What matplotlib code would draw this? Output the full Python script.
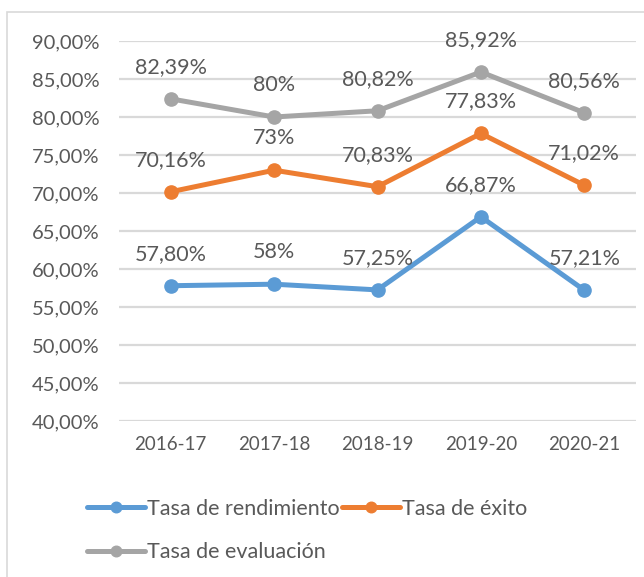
import matplotlib.pyplot as plt
from matplotlib.patches import Rectangle

years = ['2016-17', '2017-18', '2018-19', '2019-20', '2020-21']
rendimiento = [57.80, 58, 57.25, 66.87, 57.21]
exito = [70.16, 73, 70.83, 77.83, 71.02]
evaluacion = [82.39, 80, 80.82, 85.92, 80.56]

plt.rcParams['font.family'] = ['Lato', 'DejaVu Sans']
txt = '#595959'


def fmt(v):
    if float(v).is_integer():
        return f'{int(v)}%'
    return f'{v:.2f}%'.replace('.', ',')


fig = plt.figure(figsize=(6.44, 5.77), dpi=100)
ax = fig.add_axes([119 / 644, 1 - 421 / 577, 517 / 644, 380 / 577])

# chart border (Excel style)
fig.patches.append(Rectangle((7 / 644, -0.1), 1.2, 1 - 12 / 577 + 0.1,
                             transform=fig.transFigure, fill=False,
                             edgecolor='#D9D9D9', lw=1.2))

x = list(range(len(years)))
series = [
    ('Tasa de rendimiento', rendimiento, '#5B9BD5'),
    ('Tasa de evaluación', evaluacion, '#A5A5A5'),
    ('Tasa de éxito', exito, '#ED7D31'),
]
handles = []
for name, vals, col in series:
    h, = ax.plot(x, vals, color=col, lw=3.6, marker='o', markersize=9.5,
                 label=name, solid_capstyle='round', zorder=3)
    handles.append(h)
    for xi, v in zip(x, vals):
        ax.annotate(fmt(v), (xi, v), xytext=(0, 23), textcoords='offset points',
                    ha='center', va='center', fontsize=15.5, color=txt)

ax.set_xlim(-0.5, len(years) - 0.5)
ax.set_ylim(40, 90)
ax.set_yticks(range(40, 91, 5))
ax.set_yticklabels([f'{t},00%' for t in range(40, 91, 5)])
ax.set_xticks(x)
ax.set_xticklabels(years)
ax.tick_params(length=0, labelsize=14.5, labelcolor=txt)
ax.tick_params(axis='x', pad=11, labelsize=13.5)
ax.tick_params(axis='y', pad=14)
ax.grid(axis='y', color='#D9D9D9', lw=1.6)
ax.set_axisbelow(True)
for s in ax.spines.values():
    s.set_visible(False)

fig.legend(handles=handles, labels=[h.get_label() for h in handles],
           ncol=2, loc='upper left', bbox_to_anchor=(78 / 644, 1 - 490 / 577),
           frameon=False, fontsize=15.5, labelcolor=txt, handlelength=2.7,
           handletextpad=0.1, columnspacing=0.1, labelspacing=1.1,
           markerscale=0.8, borderaxespad=0)

fig.savefig('out.png', dpi=100)
